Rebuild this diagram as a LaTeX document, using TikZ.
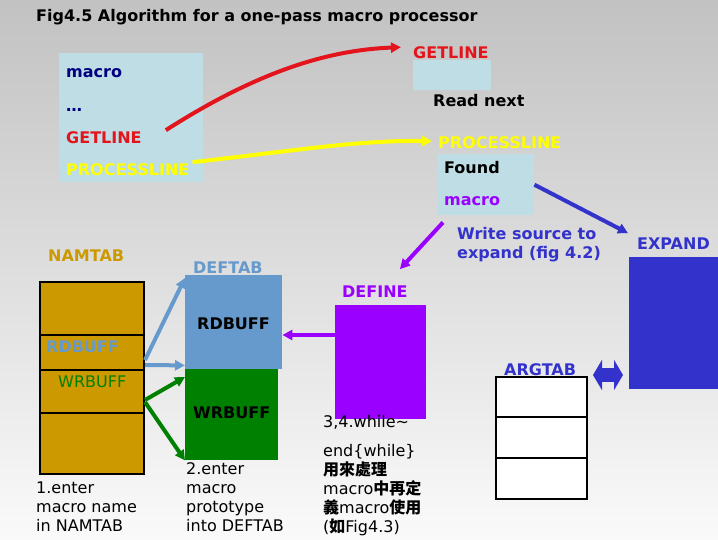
\documentclass[tikz,border=0pt]{standalone}
\usepackage{fontspec}
\setmainfont{DejaVu Sans}
\newfontfamily\cjk{Noto Sans CJK TC}
\usetikzlibrary{arrows.meta,calc}
\definecolor{paleblue}{RGB}{190,221,228}
\definecolor{navyc}{RGB}{0,0,128}
\definecolor{redc}{RGB}{228,20,28}
\definecolor{yellowc}{RGB}{255,255,0}
\definecolor{purplec}{RGB}{153,0,255}
\definecolor{bluec}{RGB}{51,51,204}
\definecolor{goldc}{RGB}{204,153,0}
\definecolor{steelc}{RGB}{102,153,204}
\definecolor{greenc}{RGB}{0,128,0}
\tikzset{
  lbl/.style={inner sep=0pt,anchor=base west,font=\fontsize{16}{19}\selectfont\bfseries},
  note/.style={inner sep=0pt,anchor=base west,align=left,font=\fontsize{16}{19}\selectfont},
  blk/.style={draw=none,inner sep=0pt,anchor=north west},
  tabbox/.style={blk,draw=black,line width=2pt},
  tabline/.style={draw=black,line width=2pt},
  flow/.style={-{Triangle[length=10pt,width=10pt]},line width=4pt},
}
\newcommand{\cjkb}[1]{{\cjk\bfseries #1}}

\begin{document}
\begin{tikzpicture}[x=1pt,y=-1pt]
  \useasboundingbox (0,0) rectangle (718,539);
  \shade[top color=black!24,bottom color=black!2] (0,0) rectangle (718,539);
  \node[lbl] (title) at (36,21) {Fig4.5 Algorithm for a one-pass macro processor};
  % source box on the left
  \node[blk,fill=paleblue,minimum width=144pt,minimum height=129pt] (mbox) at (59,53) {};
  \node[lbl,text=navyc] (mmac) at (66,77) {macro};
  \node[lbl,text=navyc] (mdots) at (66,111) {\dots};
  \node[lbl,text=redc] (mgl) at (66,143) {GETLINE};
  \node[lbl,text=yellowc] (mpl) at (66,175) {PROCESSLINE};
  % GETLINE / PROCESSLINE on the right
  \node[lbl,text=redc] (tgl) at (413,58) {GETLINE};
  \node[blk,fill=paleblue,minimum width=78pt,minimum height=30pt] (gbox) at (413,60) {};
  \node[lbl] (rnext) at (433,106) {Read next};
  \node[lbl,text=yellowc] (tpl) at (438,148) {PROCESSLINE};
  \node[blk,fill=paleblue,minimum width=97pt,minimum height=61pt] (fbox) at (437,154) {};
  \node[lbl] (found) at (444,173) {Found};
  \node[lbl,text=purplec] (fmac) at (444,205) {macro};
  \node[lbl,text=bluec,align=left] (wsrc) at (457,258) {Write source to\\expand (fig 4.2)};
  % EXPAND
  \node[lbl,text=bluec] (explbl) at (637,249) {EXPAND};
  \node[blk,fill=bluec,minimum width=89pt,minimum height=132pt] (expbox) at (629,257) {};
  % NAMTAB
  \node[lbl,text=goldc] (namlbl) at (48,261) {NAMTAB};
  \node[tabbox,fill=goldc,minimum width=104pt,minimum height=192pt] (namtab) at (39,281) {};
  \foreach \yy in {54,89,132}{
    \draw[tabline] ([yshift=-\yy pt]namtab.north west) -- ([yshift=-\yy pt]namtab.north east);}
  \node[lbl,text=steelc] (nrd) at (46,352) {RDBUFF};
  \node[note,text=greenc] (nwr) at (58,387) {WRBUFF};
  % DEFTAB
  \node[lbl,text=steelc] (deflbl) at (193,273) {DEFTAB};
  \node[blk,fill=steelc,minimum width=97pt,minimum height=94pt] (rdbox) at (185,275) {};
  \node[lbl] (rdtxt) at (197,329) {RDBUFF};
  \node[blk,fill=greenc,minimum width=93pt,minimum height=91pt] (wrbox) at (185,369) {};
  \node[lbl] (wrtxt) at (193,418) {WRBUFF};
  % DEFINE
  \node[lbl,text=purplec] (dflbl) at (342,297) {DEFINE};
  \node[blk,fill=purplec,minimum width=91pt,minimum height=114pt] (dfbox) at (335,305) {};
  % ARGTAB
  \node[lbl,text=bluec] (arglbl) at (504,375) {ARGTAB};
  \node[tabbox,fill=white,minimum width=91pt,minimum height=122pt] (argtab) at (495,376) {};
  \foreach \yy in {41,82}{
    \draw[tabline] ([yshift=-\yy pt]argtab.north west) -- ([yshift=-\yy pt]argtab.north east);}
  \coordinate (dl) at (593,375);
  \coordinate (dr) at (623,375);
  % notes
  \node[note] (n1) at (36,531) {1.enter\\macro name\\in NAMTAB};
  \node[note] (n2) at (186,531) {2.enter\\macro\\prototype\\into DEFTAB};
  \node[note] (n3) at (323,427) {3,4.while\textasciitilde};
  \node[note] (n4) at (323,532) {end\{while\}\\\cjkb{用來處理}\\macro\cjkb{中再定}\\\cjkb{義}macro\cjkb{使用}\\(\cjkb{如}Fig4.3)};
  % connectors
  \draw[flow,redc] ($(mgl.east)+(24,-7)$) .. controls (260,70) and (330,50) .. ($(tgl.west)+(-12,-5)$);
  \draw[flow,yellowc] ($(mpl.east)+(3,-7)$) .. controls (300,150) and (360,140) .. ($(tpl.west)+(-6,-1)$);
  \draw[flow,bluec] (fbox.east) -- ($(explbl.north west)+(-9,-4)$);
  \draw[flow,purplec] ($(fbox.south west)+(6,7)$) -- ($(dflbl.north)+(25,-16)$);
  \draw[flow,purplec] ($(dfbox.north west)+(0,30)$) -- ($(rdbox.north east)+(0,60)$);
  \draw[flow,steelc] ($(namtab.north east)+(0,79)$) -- ($(rdbox.north west)+(0,3)$);
  \draw[flow,steelc] ($(namtab.north east)+(0,84)$) -- ($(rdbox.south west)+(0,-4)$);
  \draw[flow,greenc] ($(namtab.north east)+(0,119)$) -- ($(wrbox.north west)+(0,8)$);
  \draw[flow,greenc] ($(namtab.north east)+(0,121)$) -- (wrbox.south west);
  \draw[{Triangle[length=9pt,width=30pt]}-{Triangle[length=9pt,width=30pt]},line width=14pt,bluec] (dl) -- (dr);
\end{tikzpicture}
\end{document}
